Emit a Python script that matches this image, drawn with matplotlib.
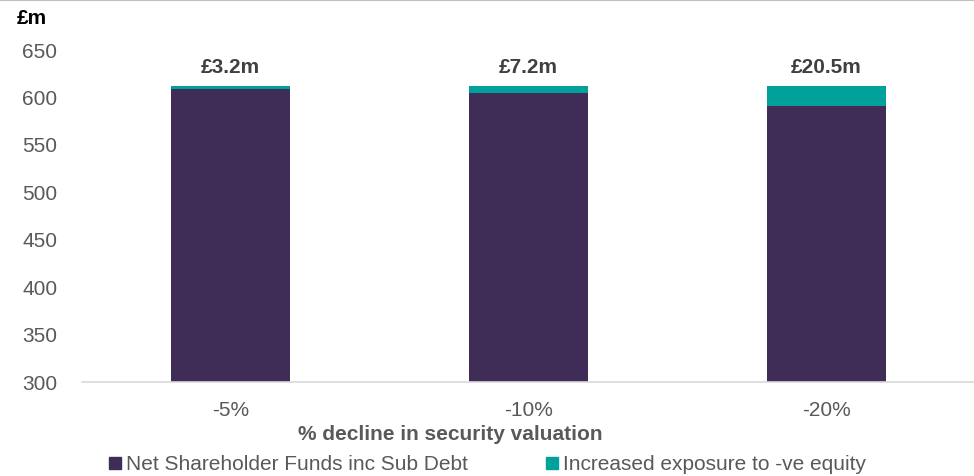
import matplotlib.pyplot as plt
from matplotlib.patches import Patch
from matplotlib.lines import Line2D

plt.rcParams["font.family"] = ["Liberation Sans", "DejaVu Sans"]

categories = ["-5%", "-10%", "-20%"]
net_funds = [608.5, 604.5, 591.2]
exposure = [3.2, 7.2, 20.5]
labels = ["£3.2m", "£7.2m", "£20.5m"]

purple = "#3F2D58"
teal = "#00A19A"
grey = "#595959"

fig = plt.figure(figsize=(9.74, 4.76), dpi=100)
ax = fig.add_axes([81.5/974, 1-382/476, 894/974, 332/476])

x = range(len(categories))
ax.bar(x, net_funds, width=0.4, color=purple)
ax.bar(x, exposure, width=0.4, bottom=net_funds, color=teal)

for i in x:
    top = net_funds[i] + exposure[i]
    ax.text(i, top + 14, labels[i], ha="center", va="baseline",
            fontsize=15, fontweight="bold", color="#404040")

ax.set_ylim(300, 650)
ax.set_xlim(-0.5, 2.5)
ax.set_yticks(range(300, 651, 50))
ax.set_xticks(list(x))
ax.set_xticklabels(categories)
ax.tick_params(axis="both", length=0, labelsize=15, colors=grey)
ax.tick_params(axis="y", pad=17.5)
ax.tick_params(axis="x", pad=13.5)

for s in ["top", "right", "left"]:
    ax.spines[s].set_visible(False)
ax.spines["bottom"].set_color("#D9D9D9")
ax.spines["bottom"].set_linewidth(1.2)

fig.text(17/974, 1-19/476, "£m", fontsize=15, fontweight="bold",
         color="black", va="center")
fig.text(450/974, 1-435/476, "% decline in security valuation",
         fontsize=15, fontweight="bold", color=grey, ha="center", va="center")

# top border line
fig.add_artist(Line2D([0, 1], [0.999, 0.999], transform=fig.transFigure,
                      color="#BFBFBF", linewidth=1.5))

handles = [Patch(color=purple), Patch(color=teal)]
names = ["Net Shareholder Funds inc Sub Debt", "Increased exposure to -ve equity"]
fig.legend(handles, names, loc="center", bbox_to_anchor=(487.5/974, 1-465/476),
           ncol=2, frameon=False, fontsize=15, handlelength=0.55,
           handleheight=0.55, handletextpad=0.25, columnspacing=3.77,
           labelcolor=grey)

fig.savefig("out.png", dpi=100)
